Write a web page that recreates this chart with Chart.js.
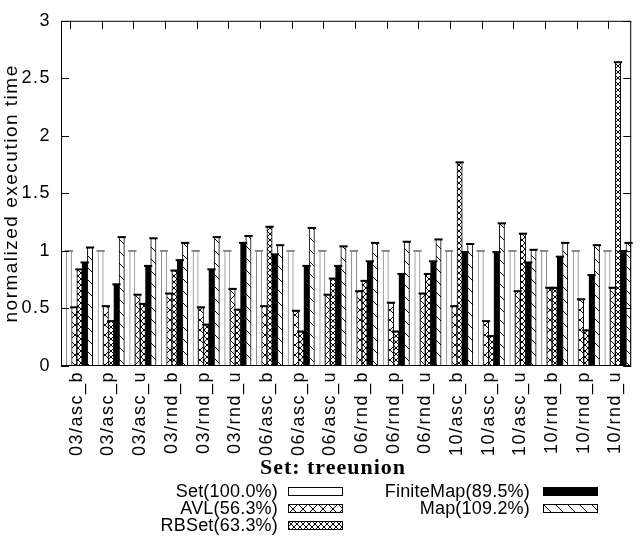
<!DOCTYPE html>
<html>
<head>
<meta charset="utf-8">
<script src="https://cdn.jsdelivr.net/npm/chart.js@4.4.0/dist/chart.umd.min.js"></script>
<style>
  body { margin: 0; background: #fff; }
  #wrap { position: relative; width: 642px; height: 537px; font-family: "Liberation Sans", Arial, sans-serif; }
  #c { position: absolute; left: 0; top: 0; }
  #title { position: absolute; left: 233px; width: 200px; top: 454px; height: 26px; line-height: 26px; text-align: center;
           font-family: "Liberation Serif", "Times New Roman", serif; font-weight: bold; font-size: 22px; letter-spacing: 1px; }
  .lg-text { position: absolute; font-size: 18px; line-height: 18px; text-align: right; white-space: nowrap; color: #000; letter-spacing: 0.2px; }
  .lg-box { position: absolute; }
</style>
</head>
<body>
<div id="wrap">
  <canvas id="c" width="642" height="537"></canvas>
  <div id="title">Set: treeunion</div>
  <div id="legend"></div>
</div>
<script>
const categories = ['03/asc_b', '03/asc_p', '03/asc_u', '03/rnd_b', '03/rnd_p', '03/rnd_u',
                    '06/asc_b', '06/asc_p', '06/asc_u', '06/rnd_b', '06/rnd_p', '06/rnd_u',
                    '10/asc_b', '10/asc_p', '10/asc_u', '10/rnd_b', '10/rnd_p', '10/rnd_u'];

const setVals       = [1, 1, 1, 1, 1, 1, 1, 1, 1, 1, 1, 1, 1, 1, 1, 1, 1, 1];
const avlVals       = [0.51, 0.52, 0.62, 0.63, 0.51, 0.67, 0.52, 0.48, 0.62, 0.65, 0.55, 0.63, 0.52, 0.39, 0.65, 0.68, 0.58, 0.68];
const rbsetVals     = [0.84, 0.39, 0.54, 0.83, 0.36, 0.49, 1.21, 0.30, 0.76, 0.74, 0.30, 0.80, 1.77, 0.26, 1.15, 0.68, 0.31, 2.64];
const finiteMapVals = [0.90, 0.71, 0.87, 0.92, 0.84, 1.07, 0.97, 0.87, 0.87, 0.91, 0.80, 0.91, 0.99, 0.99, 0.90, 0.95, 0.79, 1.00];
const mapVals       = [1.03, 1.12, 1.11, 1.07, 1.12, 1.13, 1.05, 1.20, 1.04, 1.07, 1.08, 1.10, 1.06, 1.24, 1.01, 1.07, 1.05, 1.07];

const yTickLabels = ['0', '0.5', '1', '1.5', '2', '2.5', '3'];
const legendLabels = ['Set(100.0%)', 'AVL(56.3%)', 'RBSet(63.3%)', 'FiniteMap(89.5%)', 'Map(109.2%)'];

const SANS = '"Liberation Sans", Arial, Helvetica, sans-serif';

// hatch fills, like the gnuplot patterns
function makePattern(ctx, kind) {
    const s = kind === 'dense' ? 6 : (kind === 'cross' ? 10 : 12);
    const t = document.createElement('canvas');
    t.width = s; t.height = s;
    const g = t.getContext('2d');
    g.fillStyle = '#fff';
    g.fillRect(0, 0, s, s);
    g.strokeStyle = '#000';
    g.lineWidth = 1;
    g.beginPath();
    for (let k = -1; k <= 1; k++) {
        g.moveTo(k * s, 0); g.lineTo(k * s + s, s);
        if (kind !== 'back') { g.moveTo(k * s + s, 0); g.lineTo(k * s, s); }
    }
    g.stroke();
    return ctx.createPattern(t, 'repeat');
}

const ctx = document.getElementById('c').getContext('2d');
const fills = {
    set: '#fff',
    avl: makePattern(ctx, 'cross'),
    rbset: makePattern(ctx, 'dense'),
    fmap: '#000',
    map: makePattern(ctx, 'back')
};

// gnuplot text is a bit wider than the canvas font
const spacing = {
    id: 'spacing',
    beforeDraw(chart) { chart.ctx.letterSpacing = '1.5px'; }
};

const frameAndCaps = {
    id: 'frameAndCaps',
    afterDatasetsDraw(chart) {
        const c = chart.ctx;
        const a = chart.chartArea;
        c.save();
        // error-bar caps on top of every bar
        chart.data.datasets.forEach((ds, di) => {
            if (!ds.data.length) return;
            chart.getDatasetMeta(di).data.forEach(el => {
                const p = el.getProps(['x', 'y', 'width'], true);
                c.strokeStyle = di === 1 ? '#888' : '#000';
                c.lineWidth = 2;
                c.beginPath();
                c.moveTo(p.x - p.width / 2 - 1.5, p.y);
                c.lineTo(p.x + p.width / 2 + 1.5, p.y);
                c.stroke();
            });
        });
        // border
        c.strokeStyle = '#000';
        c.lineWidth = 1;
        c.strokeRect(a.left + 0.5, a.top + 0.5, a.right - a.left - 1, a.bottom - a.top - 1);
        // inward ticks
        c.beginPath();
        const ys = chart.scales.y;
        ys.ticks.forEach(t => {
            const y = Math.round(ys.getPixelForValue(t.value)) + 0.5;
            c.moveTo(a.left, y); c.lineTo(a.left + 8, y);
            c.moveTo(a.right, y); c.lineTo(a.right - 8, y);
        });
        const xs = chart.scales.x;
        xs.ticks.forEach((t, i) => {
            const x = Math.round(xs.getPixelForTick(i) - 7) + 0.5;
            c.moveTo(x, a.top); c.lineTo(x, a.top + 8);
        });
        c.stroke();
        c.restore();
    }
};

new Chart(ctx, {
    type: 'bar',
    data: {
        labels: categories,
        datasets: [
            { label: '', data: [] },
            { label: 'Set', data: setVals, backgroundColor: fills.set, borderColor: '#888', borderWidth: 1 },
            { label: 'AVL', data: avlVals, backgroundColor: fills.avl, borderColor: '#000', borderWidth: 1 },
            { label: 'RBSet', data: rbsetVals, backgroundColor: fills.rbset, borderColor: '#000', borderWidth: 1 },
            { label: 'FiniteMap', data: finiteMapVals, backgroundColor: fills.fmap, borderColor: '#000', borderWidth: 1 },
            { label: 'Map', data: mapVals, backgroundColor: fills.map, borderColor: '#000', borderWidth: 1 }
        ]
    },
    options: {
        responsive: false,
        animation: false,
        layout: { padding: { top: 12, right: 1, bottom: 59, left: 0 } },
        datasets: { bar: { categoryPercentage: 1, barPercentage: 1 } },
        plugins: { legend: { display: false }, tooltip: { enabled: false } },
        scales: {
            x: {
                grid: { display: false, drawTicks: false },
                border: { display: false },
                ticks: {
                    autoSkip: false, minRotation: 90, maxRotation: 90,
                    padding: 5, labelOffset: 0, color: '#000',
                    font: { family: SANS, size: 18 }
                },
                afterFit: s => { s.height = 112; }
            },
            y: {
                min: 0, max: 3,
                grid: { display: false, drawTicks: false },
                border: { display: false },
                ticks: {
                    stepSize: 0.5, padding: 10, color: '#000',
                    font: { family: SANS, size: 18 },
                    callback: (v, i) => yTickLabels[i]
                },
                title: {
                    display: true, text: 'normalized execution time', color: '#000',
                    padding: { top: 0 }, font: { family: SANS, size: 19 }
                },
                afterFit: s => { s.width = 61; }
            }
        }
    },
    plugins: [spacing, frameAndCaps]
});

// legend: two columns, text then swatch
const legendFills = [fills.set, 'avl', 'rbset', fills.fmap, 'map'];
const legend = document.getElementById('legend');
const textRight = [278, 530];
const boxLeft = [288, 543];
const rowMid = [491, 508, 525];
legendLabels.forEach((lab, i) => {
    const col = i < 3 ? 0 : 1;
    const row = i < 3 ? i : i - 3;
    const tx = document.createElement('div');
    tx.className = 'lg-text';
    tx.textContent = lab;
    tx.style.right = (642 - textRight[col]) + 'px';
    tx.style.top = (rowMid[row] - 9) + 'px';
    legend.appendChild(tx);

    const bx = document.createElement('canvas');
    bx.className = 'lg-box';
    bx.width = 55; bx.height = 9;
    bx.style.left = boxLeft[col] + 'px';
    bx.style.top = (rowMid[row] - 4) + 'px';
    const g = bx.getContext('2d');
    const f = legendFills[i];
    g.fillStyle = typeof f === 'string' && f.startsWith('#') ? f
        : makePattern(g, f === 'avl' ? 'cross' : (f === 'rbset' ? 'dense' : 'back'));
    g.fillRect(0, 0, 55, 9);
    g.strokeStyle = '#000';
    g.lineWidth = 1;
    g.strokeRect(0.5, 0.5, 54, 8);
    legend.appendChild(bx);
});
</script>
</body>
</html>
